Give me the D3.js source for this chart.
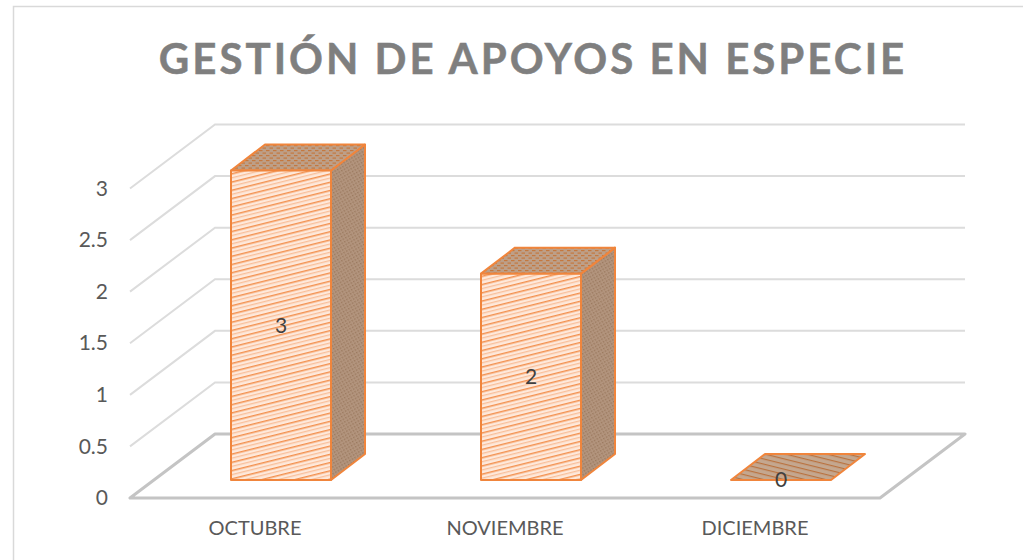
<!DOCTYPE html>
<html>
<head>
<meta charset="utf-8">
<script src="https://cdn.jsdelivr.net/npm/d3@7"></script>
<style>
  html, body { margin: 0; padding: 0; background: #fff; overflow: hidden; }
  svg { display: block; font-family: Lato, "Open Sans", sans-serif; }
</style>
</head>
<body>
<div id="chart"></div>
<script>
const chartTitle = "GESTIÓN DE APOYOS EN ESPECIE";
const categories = ["OCTUBRE", "NOVIEMBRE", "DICIEMBRE"];
const values = [3, 2, 0];
const yTicks = [0, 0.5, 1, 1.5, 2, 2.5, 3];

const width = 1023, height = 560;

// oblique offsets of the 3D box
const floorDepth = { dx: 85, dy: -64 };
const barInset = { dx: 26, dy: -18 };
const barDepth = { dx: 34, dy: -26 };

const svg = d3.select("#chart").append("svg")
  .attr("width", width)
  .attr("height", height);

const defs = svg.append("defs");

// front face stripes
const frontPat = defs.append("pattern")
  .attr("id", "front-hatch")
  .attr("patternUnits", "userSpaceOnUse")
  .attr("width", 8).attr("height", 8)
  .attr("patternTransform", "rotate(-14)");
frontPat.append("rect").attr("width", 8).attr("height", 8).attr("fill", "#fee9db");
frontPat.append("rect").attr("y", 0).attr("width", 8).attr("height", 1.5).attr("fill", "#f39150");
frontPat.append("rect").attr("y", 4).attr("width", 8).attr("height", 1.3).attr("fill", "#f9bf9a");

// dotted side face
const sidePat = defs.append("pattern")
  .attr("id", "side-hatch")
  .attr("patternUnits", "userSpaceOnUse")
  .attr("width", 3).attr("height", 3)
  .attr("patternTransform", "rotate(-30)");
sidePat.append("rect").attr("width", 3).attr("height", 3).attr("fill", "#b3957e");
sidePat.append("rect").attr("width", 1.5).attr("height", 1.5).attr("fill", "#9b7a5f");

// dashed top face of the tall boxes
const topPat = defs.append("pattern")
  .attr("id", "top-hatch")
  .attr("patternUnits", "userSpaceOnUse")
  .attr("width", 7).attr("height", 5);
topPat.append("rect").attr("width", 7).attr("height", 5).attr("fill", "#bd9f88");
topPat.append("rect").attr("width", 3.5).attr("height", 1.2).attr("fill", "#c4783f");
topPat.append("rect").attr("x", 3.5).attr("y", 2.5).attr("width", 3.5).attr("height", 1.2).attr("fill", "#c4783f");

// flat box shows plain stripes
const flatPat = defs.append("pattern")
  .attr("id", "flat-hatch")
  .attr("patternUnits", "userSpaceOnUse")
  .attr("width", 5).attr("height", 5)
  .attr("patternTransform", "rotate(14)");
flatPat.append("rect").attr("width", 5).attr("height", 5).attr("fill", "#c4a78f");
flatPat.append("rect").attr("width", 5).attr("height", 1.2).attr("fill", "#b9723f");

// chart frame, runs off the right and bottom of the picture
svg.append("rect")
  .attr("x", 13.5).attr("y", 6.5)
  .attr("width", 1030).attr("height", 570)
  .attr("fill", "#fff")
  .attr("stroke", "#d9d9d9")
  .attr("stroke-width", 1.5);

svg.append("text")
  .attr("x", 533)
  .attr("y", 73.5)
  .attr("text-anchor", "middle")
  .style("font-size", "42px")
  .style("font-weight", "bold")
  .style("letter-spacing", "3px")
  .style("fill", "#7f7f7f")
  .style("stroke", "#7f7f7f")
  .style("stroke-width", "0.5px")
  .text(chartTitle);

const x = d3.scaleBand()
  .domain(categories)
  .range([130, 880])
  .paddingInner(0.6)
  .paddingOuter(0.3);

const y = d3.scaleLinear()
  .domain([0, 3])
  .range([498, 188.5]);

const x0 = x.range()[0], x1 = x.range()[1];

// gridlines: side wall then back wall
yTicks.filter(t => t > 0).forEach(t => {
  svg.append("polyline")
    .attr("points", [
      [x0, y(t)],
      [x0 + floorDepth.dx, y(t) + floorDepth.dy],
      [x1 + floorDepth.dx, y(t) + floorDepth.dy]
    ].join(" "))
    .attr("fill", "none")
    .attr("stroke", "#dcdcdc")
    .attr("stroke-width", 2);
});

// floor
svg.append("polygon")
  .attr("points", [
    [x0, y(0)],
    [x1, y(0)],
    [x1 + floorDepth.dx, y(0) + floorDepth.dy],
    [x0 + floorDepth.dx, y(0) + floorDepth.dy]
  ].join(" "))
  .attr("fill", "none")
  .attr("stroke", "#c4c4c4")
  .attr("stroke-width", 3)
  .attr("stroke-linejoin", "round");

// y axis labels
svg.append("g")
  .attr("transform", `translate(${x0 - 22},0)`)
  .call(d3.axisLeft(y).tickValues(yTicks).tickSize(0).tickPadding(0).tickFormat(d => d))
  .call(g => g.select(".domain").remove())
  .selectAll("text")
  .style("font-family", "Lato, 'Open Sans', sans-serif")
  .style("font-size", "21px")
  .style("fill", "#595959");

// x axis labels
svg.append("g")
  .attr("transform", `translate(0,${y(0) + 19})`)
  .call(d3.axisBottom(x).tickSize(0).tickPadding(4))
  .call(g => g.select(".domain").remove())
  .selectAll("text")
  .style("font-family", "Lato, 'Open Sans', sans-serif")
  .style("font-size", "20px")
  .style("fill", "#595959");

// bars
const bars = svg.selectAll(".bar")
  .data(categories.map((c, i) => ({ category: c, value: values[i] })))
  .enter()
  .append("g")
  .attr("class", "bar");

const faceStyle = sel => sel
  .attr("stroke", "#f0853c")
  .attr("stroke-width", 2)
  .attr("stroke-linejoin", "round");

const barLeft = d => x(d.category) + barInset.dx;
const barRight = d => barLeft(d) + x.bandwidth();
const barBase = barInset.dy + y(0);
const barTop = d => y(d.value) + barInset.dy;

bars.filter(d => d.value > 0).append("polygon")
  .attr("points", d => [
    [barRight(d), barTop(d)],
    [barRight(d) + barDepth.dx, barTop(d) + barDepth.dy],
    [barRight(d) + barDepth.dx, barBase + barDepth.dy],
    [barRight(d), barBase]
  ].join(" "))
  .attr("fill", "url(#side-hatch)")
  .call(faceStyle);

bars.append("polygon")
  .attr("points", d => [
    [barLeft(d), barTop(d)],
    [barRight(d), barTop(d)],
    [barRight(d) + barDepth.dx, barTop(d) + barDepth.dy],
    [barLeft(d) + barDepth.dx, barTop(d) + barDepth.dy]
  ].join(" "))
  .attr("fill", d => d.value > 0 ? "url(#top-hatch)" : "url(#flat-hatch)")
  .call(faceStyle);

bars.filter(d => d.value > 0).append("rect")
  .attr("x", barLeft)
  .attr("y", barTop)
  .attr("width", x.bandwidth())
  .attr("height", d => barBase - barTop(d))
  .attr("fill", "url(#front-hatch)")
  .call(faceStyle);

// value labels
bars.append("text")
  .attr("x", d => barLeft(d) + x.bandwidth() / 2)
  .attr("y", d => (barTop(d) + barBase) / 2)
  .attr("dy", "0.35em")
  .attr("text-anchor", "middle")
  .style("font-size", "21px")
  .style("fill", "#404040")
  .text(d => d.value);
</script>
</body>
</html>
